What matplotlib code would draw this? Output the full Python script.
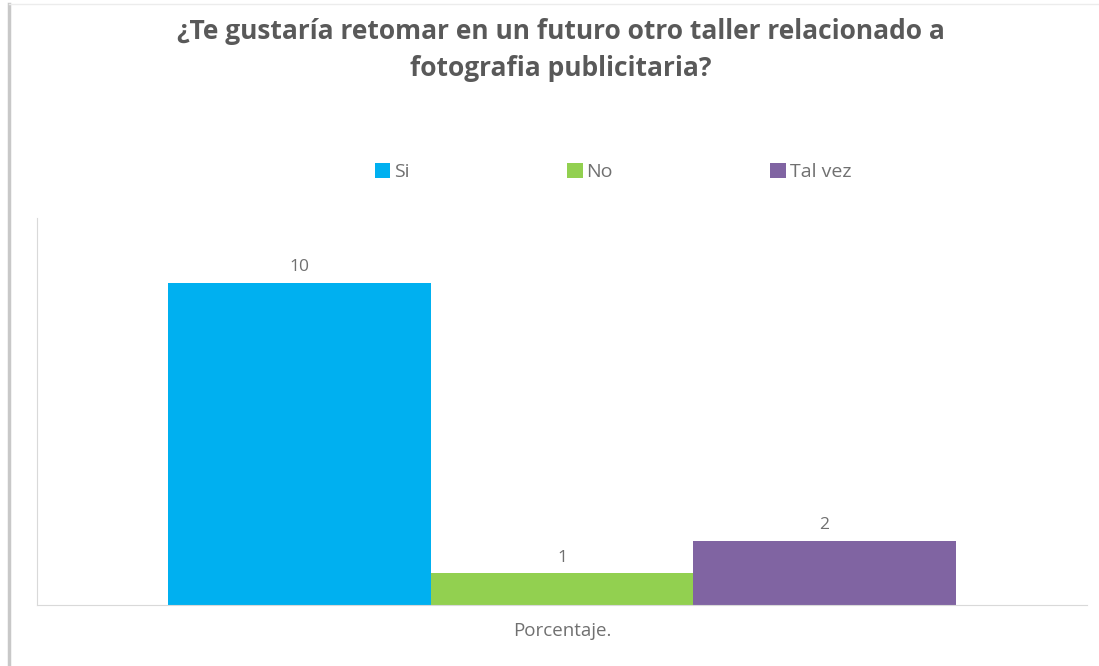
import matplotlib
matplotlib.use("Agg")
import matplotlib.pyplot as plt
from matplotlib.patches import Patch
from matplotlib.lines import Line2D

# Survey answers
categories = ["Si", "No", "Tal vez"]
values = [10, 1, 2]
colors = ["#00B0F0", "#92D050", "#8064A2"]
group_label = "Porcentaje."
title = "¿Te gustaría retomar en un futuro otro taller relacionado a\nfotografia publicitaria?"

plt.rcParams["font.family"] = ["Open Sans", "DejaVu Sans"]
title_color = "#595959"
text_color = "#707070"

fig = plt.figure(figsize=(10.99, 6.66), dpi=100)
W, H = 1099, 666
ax = fig.add_axes([37 / W, 1 - 605 / H, (1087 - 37) / W, (605 - 218) / H])

positions = [-1, 0, 1]
bars = ax.bar(positions, values, width=1.0, color=colors, label=categories)
for x, v in zip(positions, values):
    ax.text(x, v + 0.22, str(v), ha="center", va="bottom", fontsize=12.5, color=text_color)

ax.set_xlim(-2, 2)
ax.set_ylim(0, 12)
ax.set_xticks([0])
ax.set_xticklabels([group_label], fontsize=13.5, color=text_color)
ax.tick_params(axis="x", length=0, pad=12)
ax.set_yticks([])
for side in ["top", "right"]:
    ax.spines[side].set_visible(False)
ax.spines["left"].set_color("#d9d9d9")
ax.spines["bottom"].set_color("#d9d9d9")

fig.text(561 / W, 1 - 50 / H, title, ha="center", va="center", fontsize=19,
         fontweight="bold", color=title_color, linespacing=1.5)

handles = [Patch(facecolor=c, edgecolor="none", label=l) for c, l in zip(colors, categories)]
fig.legend(handles=handles, loc="center", bbox_to_anchor=(613 / W, 1 - 172 / H), ncol=3,
           frameon=False, fontsize=14, labelcolor=text_color, handlelength=0.8,
           handleheight=0.8, handletextpad=0.2, columnspacing=8.1)

# Outer frame lines
fig.add_artist(Line2D([9 / W, 9 / W], [0, 1 - 4 / H], color="#c8c8c8", lw=2.5))
fig.add_artist(Line2D([9 / W, 1], [1 - 4 / H, 1 - 4 / H], color="#ececec", lw=1))

fig.savefig("out.png", dpi=100, facecolor="white")
